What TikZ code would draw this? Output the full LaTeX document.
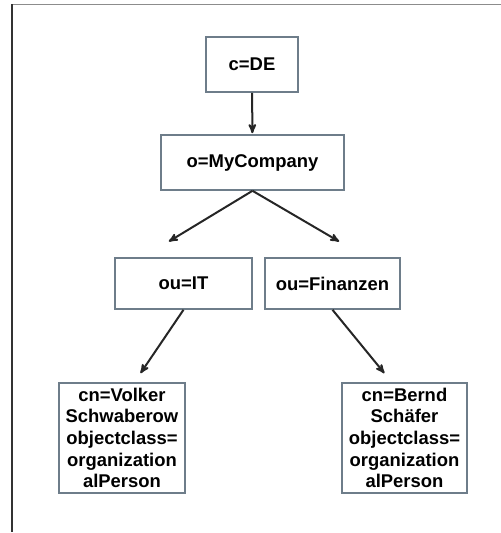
\documentclass[tikz,border=0pt]{standalone}
\usepackage{fontspec}
\setmainfont{Liberation Sans}
\usetikzlibrary{arrows}
\definecolor{boxline}{RGB}{110,125,138}

\begin{document}
\begin{tikzpicture}[x=1bp,y=-1bp,>=stealth',shorten >=1pt,
		entry/.style={draw=boxline,line width=1.6bp,inner sep=0pt,align=center,
			font=\bfseries\fontsize{18.5}{21.7}\selectfont}]
		\useasboundingbox (0,0) rectangle (501,533);

		% frame
		\draw[gray!90,line width=1.8bp] (501,4.5) -- (12,4.5);
		\draw[black!80,line width=1.8bp] (12,4.5) -- (12,533);

		\node[entry,minimum width=92bp,minimum height=55bp] (c_DE) at (252,64.5) {c=DE};
		\node[entry,minimum width=183bp,minimum height=55bp] (o_MyCompany) at (252.5,162.5) {o=MyCompany};
		\node[entry,minimum width=137bp,minimum height=51bp] (ou_IT) at (183.5,283.5) {ou=IT};
		\node[entry,minimum width=135bp,minimum height=51bp] (ou_Finanzen) at (332.5,283.5) {ou=Finanzen};
		\node[entry,minimum width=126bp,minimum height=110bp] (cn_Volker) at (122,438)
			{cn=Volker\\Schwaberow\\objectclass=\\organization\\alPerson};
		\node[entry,minimum width=125bp,minimum height=110bp] (cn_Bernd) at (404.5,438)
			{cn=Bernd\\Schäfer\\objectclass=\\organization\\alPerson};

		\coordinate (IT_in) at (168,242);
		\coordinate (Fin_in) at (340,242);
		\coordinate (Volker_in) at (140,374);
		\coordinate (Bernd_in) at (385,374);

		\path[->,line width=2bp,black!85]
			(c_DE) edge (o_MyCompany)
			(o_MyCompany.south) edge (IT_in)
			(o_MyCompany.south) edge (Fin_in)
			(ou_IT.south) edge (Volker_in)
			(ou_Finanzen.south) edge (Bernd_in);
	\end{tikzpicture}
\end{document}
